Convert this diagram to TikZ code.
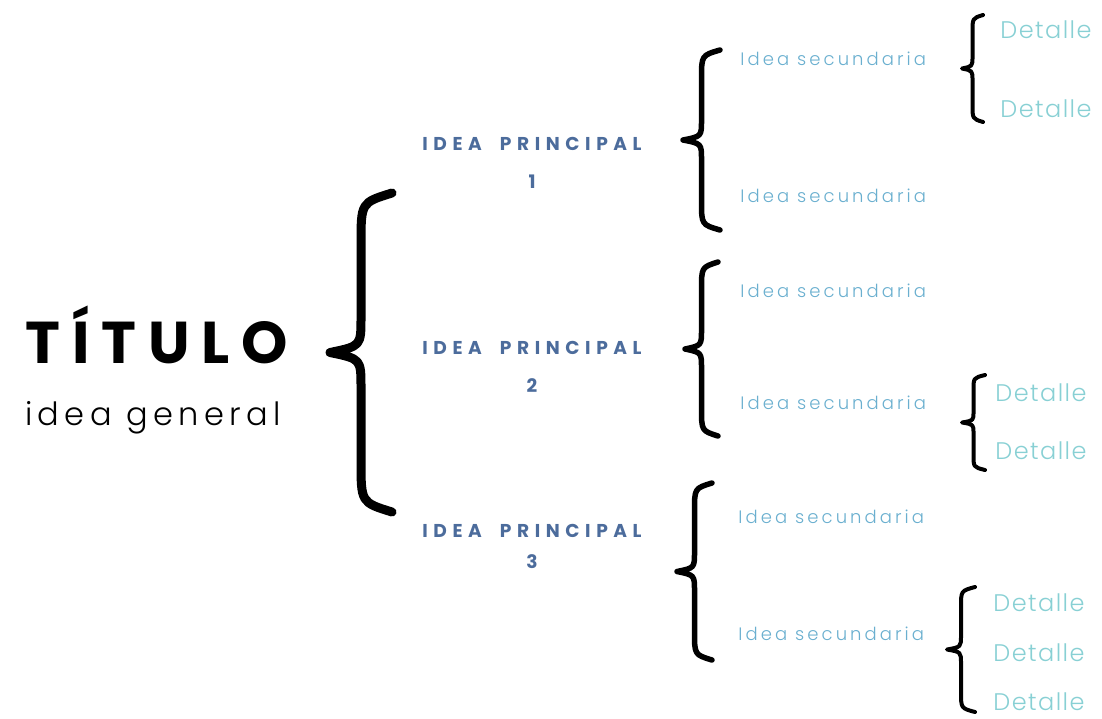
\documentclass[tikz,border=0pt]{standalone}
\usepackage{fontspec}
\setmainfont{Poppins}
\usepackage{tikz}
\usetikzlibrary{calc}
\usetikzlibrary{positioning}

\newfontfamily\fTitulo{Poppins}[LetterSpace=20]
\newfontfamily\fGeneral{Poppins Light}[LetterSpace=17]
\newfontfamily\fPrincipal{Poppins}[LetterSpace=30]
\newfontfamily\fSecundaria{Poppins Light}[LetterSpace=17]
\newfontfamily\fDetalle{Poppins Light}[LetterSpace=6]

\definecolor{azulP}{HTML}{4C6C9C}
\definecolor{azulS}{HTML}{6AAFCF}
\definecolor{azulD}{HTML}{88D0D4}

% llave: [estilo]{x derecha}{y arriba}{y abajo}{x punta}
\newcommand{\llave}[5][]{%
  \pgfmathsetmacro{\llXm}{(#2+#5)/2}%
  \pgfmathsetmacro{\llYm}{(#3+#4)/2}%
  \pgfmathsetmacro{\llL}{#4-#3}%
  \draw[llave,#1] (#2,#3) .. controls (\llXm,{#3+0.03*\llL}) .. (\llXm,{#3+0.16*\llL})
    -- (\llXm,{\llYm-0.11*\llL}) .. controls (\llXm,{\llYm-0.02*\llL}) .. (#5,\llYm)
    .. controls (\llXm,{\llYm+0.02*\llL}) .. (\llXm,{\llYm+0.11*\llL})
    -- (\llXm,{#4-0.16*\llL}) .. controls (\llXm,{#4-0.03*\llL}) .. (#2,#4);
}

\begin{document}
\begin{tikzpicture}[
  x=0.5pt, y=-0.5pt,
  every node/.style={inner sep=0pt, anchor=base},
  titulo/.style={font=\fTitulo\bfseries\fontsize{29.5}{31}\selectfont},
  general/.style={font=\fGeneral\fontsize{16}{18}\selectfont},
  principal/.style={font=\fPrincipal\bfseries\fontsize{9.3}{11}\selectfont, text=azulP},
  secundaria/.style={font=\fSecundaria\fontsize{9}{11}\selectfont, text=azulS, anchor=base west},
  detalle/.style={font=\fDetalle\fontsize{12}{14}\selectfont, text=azulD, anchor=base west},
  llave/.style={line width=2.75pt, line cap=round, line join=round}
  ]
  \useasboundingbox (0,0) rectangle (1102,718);

	\node[titulo]  (titulo)  at (157,363) {TÍTULO};
	\node[general] (general) at (153,425) {idea general};

	\node[principal] (p1) at (532,150) {IDEA\hspace{9pt}PRINCIPAL};
	\node[principal] (n1) at (532,188) {1};
	\node[principal] (p2) at (532,354) {IDEA\hspace{9pt}PRINCIPAL};
	\node[principal] (n2) at (532,392) {2};
	\node[principal] (p3) at (532,537) {IDEA\hspace{9pt}PRINCIPAL};
	\node[principal] (n3) at (532,568) {3};

	\node[secundaria] (s1a) at (740,65)  {Idea secundaria};
	\node[secundaria] (s1b) at (740,202) {Idea secundaria};
	\node[secundaria] (s2a) at (740,297) {Idea secundaria};
	\node[secundaria] (s2b) at (740,409) {Idea secundaria};
	\node[secundaria] (s3a) at (738,523) {Idea secundaria};
	\node[secundaria] (s3b) at (738,640) {Idea secundaria};

	\foreach \n/\x/\y in {1a/1000/38, 1b/1000/117, 2a/995/401, 2b/995/459,
	                      3a/993/611, 3b/993/661, 3c/993/710}
	  \node[detalle] (d\n) at (\x,\y) {Detalle};

	% llaves
	\llave[line width=4.5pt]{392}{193}{512}{330}
	\llave{720}{50}{230}{683}
	\llave{718}{262}{436}{685}
	\llave{712}{483}{660}{677}
	\llave[line width=2pt]{983}{15}{122}{962}
	\llave[line width=2pt]{985}{375}{470}{962}
	\llave[line width=2pt]{975}{587}{712}{947}

\end{tikzpicture}
\end{document}
